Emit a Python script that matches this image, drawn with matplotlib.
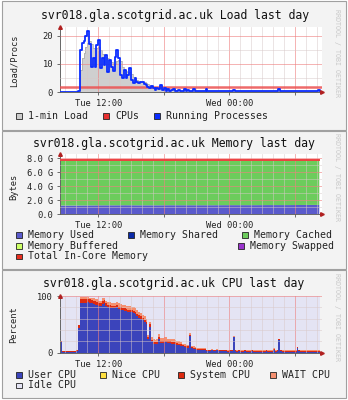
import numpy as np
import matplotlib
matplotlib.use("Agg")
import matplotlib.pyplot as plt
from matplotlib.patches import Rectangle

W, H = 348, 400
plt.rcParams['font.family'] = ['DejaVu Sans Mono']

# time axis: hours since Tue 00:00, samples every 10 minutes from 08:30
T0 = 8.5
STEP = 1 / 6
X_MIN, X_MAX = 8.5, 32.5
MAJOR_HOURS = [12, 18, 24, 30]
MAJOR_LABELS = ["Tue 12:00", "", "Wed 00:00", ""]

# ---- load graph ----
load_procs = [
    0, 0, 0, 0, 0, 0, 0, 0, 0, 0,
    0.3, 15, 17.5, 18, 20, 21.5, 17, 9, 12, 9,
    16.5, 18.3, 8.5, 12, 9.6, 13, 7.3, 11.4, 9, 7.5,
    12.5, 15, 12, 6, 5, 7.9, 5, 6, 8.5, 4.4,
    3.2, 5, 3.8, 3.2, 3.6, 3.8, 3, 2.6, 1.8, 1.4,
    2.2, 1.5, 0.8, 1.6, 1.2, 2.5, 0.8, 1.5, 0.6, 1.0,
    0.5, 0.7, 1.0, 0.6, 0.5, 0.9, 0.5, 0.6, 1.2, 0.5,
    0.7, 0.5, 0.4, 1.0, 0.5, 0.4, 0.3, 0.5, 0.3, 0.4,
    1.0, 0.4, 0.3, 0.3, 0.5, 0.3, 0.3, 0.4, 0.3, 0.3,
    0.3, 0.5, 0.3, 0.3, 0.3, 0.8, 0.3, 0.3, 0.3, 0.4,
    0.3, 0.3, 0.3, 0.3, 0.4, 0.3, 0.3, 0.6, 0.3, 0.3,
    0.3, 0.3, 0.4, 0.3, 0.3, 0.3, 0.3, 0.4, 0.3, 0.5,
    1.1, 0.4, 0.3, 0.3, 0.3, 0.3, 0.4, 0.3, 0.3, 0.3,
    0.3, 0.3, 0.4, 0.3, 0.3, 0.3, 0.3, 0.3, 0.4, 0.3,
    0.3, 0.3, 0.7, 0.3,
]
load_one = [
    0.1, 0.1, 0.1, 0.1, 0.1, 0.1, 0.1, 0.1, 0.1, 0.1,
    0.5, 8, 12, 14, 16, 17.5, 18, 17, 15.5, 15,
    15.5, 16, 15, 13.5, 13, 12.5, 12, 11, 10.5, 10,
    10, 11, 11.5, 11, 9, 8, 7.5, 7, 7, 6.5,
    5.5, 5, 4.5, 4, 3.8, 3.6, 3.5, 3.3, 3, 2.6,
    2.2, 2, 1.7, 1.5, 1.3, 1.4, 1.2, 1.1, 1.0, 0.9,
    0.8, 0.8, 0.8, 0.7, 0.7, 0.7, 0.6, 0.6, 0.7, 0.6,
    0.6, 0.5, 0.5, 0.6, 0.5, 0.4, 0.4, 0.4, 0.4, 0.4,
    0.5, 0.4, 0.4, 0.4, 0.4, 0.3, 0.3, 0.3, 0.3, 0.3,
    0.3, 0.3, 0.3, 0.3, 0.3, 0.4, 0.4, 0.3, 0.3, 0.3,
    0.3, 0.3, 0.3, 0.3, 0.3, 0.3, 0.3, 0.4, 0.3, 0.3,
    0.3, 0.3, 0.3, 0.3, 0.3, 0.3, 0.3, 0.3, 0.3, 0.3,
    0.5, 0.4, 0.3, 0.3, 0.3, 0.3, 0.3, 0.3, 0.3, 0.3,
    0.3, 0.3, 0.3, 0.3, 0.3, 0.3, 0.3, 0.3, 0.3, 0.3,
    0.3, 0.3, 0.4, 0.3,
]
n_cpus = 2

# ---- memory graph (hourly, GB) ----
mem_used = [1.22, 1.22, 1.23, 1.24, 1.25, 1.25, 1.26, 1.25, 1.25, 1.25,
            1.26, 1.26, 1.26, 1.26, 1.26, 1.27, 1.27, 1.27, 1.27, 1.28,
            1.28, 1.28, 1.29, 1.30, 1.30]
mem_shared = [0, 0, 0, 0, 0, 0, 0, 0, 0, 0, 0, 0, 0, 0, 0, 0, 0, 0, 0, 0,
              0, 0, 0, 0, 0]
mem_cached = [6.41, 6.41, 6.40, 6.39, 6.38, 6.38, 6.37, 6.38, 6.38, 6.38,
              6.37, 6.37, 6.37, 6.37, 6.37, 6.36, 6.36, 6.36, 6.36, 6.35,
              6.35, 6.35, 6.34, 6.33, 6.33]
mem_buffered = [0.05, 0.05, 0.05, 0.05, 0.05, 0.05, 0.05, 0.05, 0.05, 0.05,
                0.05, 0.05, 0.05, 0.05, 0.05, 0.05, 0.05, 0.05, 0.05, 0.05,
                0.05, 0.05, 0.05, 0.05, 0.05]
mem_total = [7.78, 7.78, 7.78, 7.78, 7.78, 7.78, 7.78, 7.78, 7.78, 7.78,
             7.78, 7.78, 7.78, 7.78, 7.78, 7.78, 7.78, 7.78, 7.78, 7.78,
             7.78, 7.78, 7.78, 7.78, 7.78]

# ---- cpu graph (percent) ----
cpu_user = [
    18, 2, 2, 2, 2, 2, 2, 2, 2, 3,
    43, 88, 88, 88, 88, 89, 88, 87, 86, 85,
    84, 82, 83, 86, 88, 82, 80, 79, 79, 78,
    78, 80, 77, 76, 75, 74, 73, 72, 72, 71,
    70, 68, 65, 62, 60, 57, 54, 50, 25, 46,
    20, 16, 15, 16, 24, 17, 17, 18, 18, 17,
    17, 16, 16, 15, 14, 13, 12, 11, 10, 9,
    9, 30, 8, 7, 6, 5, 5, 4, 4, 4,
    3, 3, 3, 4, 3, 3, 4, 3, 3, 3,
    3, 3, 2, 3, 3, 27, 3, 2, 3, 2,
    2, 3, 2, 2, 2, 3, 2, 2, 2, 2,
    2, 2, 2, 3, 2, 2, 2, 5, 2, 3,
    22, 3, 2, 2, 2, 2, 2, 2, 2, 2,
    8, 3, 2, 2, 2, 2, 2, 2, 2, 2,
    2, 2, 2, 2,
]
cpu_system = [
    3, 1, 1, 1, 1, 1, 1, 1, 1, 1,
    5, 7, 7, 7, 7, 6, 6, 6, 6, 6,
    6, 5, 5, 5, 5, 5, 5, 5, 4, 4,
    4, 4, 4, 4, 4, 4, 4, 4, 4, 4,
    4, 4, 4, 4, 4, 4, 4, 4, 3, 4,
    3, 3, 3, 3, 3, 3, 3, 3, 3, 3,
    3, 3, 3, 3, 3, 3, 3, 2, 2, 2,
    2, 2, 2, 2, 2, 2, 2, 2, 2, 2,
    1.5, 1.5, 1.5, 1.5, 1.5, 1.5, 1.5, 1.5, 1.5, 1.5,
    1.5, 1.5, 1.5, 1.5, 1.5, 1.5, 1.5, 1.5, 1.5, 1.5,
    1.5, 1.5, 1.5, 1.5, 1.5, 1.5, 1.5, 1.5, 1.5, 1.5,
    1.5, 1.5, 1.5, 1.5, 1.5, 1.5, 1.5, 1.5, 1.5, 1.5,
    1.5, 1.5, 1.5, 1.5, 1.5, 1.5, 1.5, 1.5, 1.5, 1.5,
    1.5, 1.5, 1.5, 1.5, 1.5, 1.5, 1.5, 1.5, 1.5, 1.5,
    1.5, 1.5, 1.5, 1.5,
]
cpu_wait = [
    0.5, 0.5, 0.5, 0.5, 0.5, 0.5, 0.5, 0.5, 0.5, 0.5,
    1, 3, 3, 3, 3, 3, 3, 3, 4, 4,
    4, 4, 4, 5, 4, 5, 5, 5, 5, 6,
    6, 6, 6, 6, 6, 6, 6, 6, 6, 6,
    6, 6, 6, 6, 6, 6, 6, 5, 4, 5,
    5, 5, 5, 5, 6, 6, 6, 6, 6, 5,
    5, 5, 5, 4, 4, 4, 3, 3, 3, 3,
    2, 2, 2, 2, 2, 1.5, 1.5, 1.5, 1.5, 1.5,
    1, 1, 1, 1, 1, 1, 1, 1, 1, 1,
    1, 1, 1, 1, 1, 1, 1, 1, 1, 1,
    1, 1, 1, 1, 1, 1, 1, 1, 1, 1,
    1, 1, 1, 1, 1, 1, 1, 1, 1, 1,
    1, 1, 1, 1, 1, 1, 1, 1, 1, 1,
    1, 1, 1, 1, 1, 1, 1, 1, 1, 1,
    1, 1, 1, 1,
]

HOST = "svr018.gla.scotgrid.ac.uk"
PANEL_BG = "#f3f3f3"
GRID_MINOR = "#d8c8c8"
GRID_MAJOR = "#ee8080"


def fx(x):
    return x / W


def fy(y):
    return 1 - y / H


def add_ax(fig, x0, y0, x1, y1):
    return fig.add_axes([fx(x0), fy(y1), (x1 - x0) / W, (y1 - y0) / H])


def hours_for(values, step):
    return T0 + np.arange(len(values)) * step


def style_axes(ax, ylim, yticks, ylabels, minor_y, major_y, facecolor="white"):
    ax.set_facecolor(facecolor)
    ax.set_xlim(X_MIN, X_MAX)
    ax.set_ylim(*ylim)
    ax.set_xticks(MAJOR_HOURS)
    ax.set_xticklabels(MAJOR_LABELS)
    ax.set_xticks(np.arange(9, 33), minor=True)
    ax.set_yticks(yticks)
    ax.set_yticklabels(ylabels)
    ax.set_yticks(minor_y, minor=True)
    ax.tick_params(axis="both", which="major", labelsize=6.3, length=2,
                   width=0.6, color="#555555", pad=3, labelcolor="#222222")
    ax.tick_params(axis="both", which="minor", length=0)
    ax.grid(which="minor", color=GRID_MINOR, lw=0.5, alpha=0.7)
    ax.grid(which="major", color=GRID_MAJOR, lw=0.6, alpha=0.7)
    ax.set_axisbelow(False)
    for s in ("top", "right"):
        ax.spines[s].set_visible(False)
    for s in ("left", "bottom"):
        ax.spines[s].set_color("#666666")
        ax.spines[s].set_linewidth(0.7)
    # little red arrow heads at the ends of the axes
    ax.plot([0], [1.0], marker="^", ms=2.6, color="#b02020", transform=ax.transAxes,
            clip_on=False, zorder=6)
    ax.plot([1.0], [0], marker=">", ms=2.6, color="#b02020", transform=ax.transAxes,
            clip_on=False, zorder=6)


def legend_item(fig, x, y, color, text):
    fig.add_artist(Rectangle((fx(x), fy(y + 2.8)), 5.5 / W, 5.5 / H, transform=fig.transFigure,
                             facecolor=color, edgecolor="#222222", lw=0.6))
    fig.text(fx(x + 12), fy(y), text, fontsize=7.1, va="center", ha="left", color="#222222")


fig = plt.figure(figsize=(W / 100, H / 100), dpi=100)
fig.patch.set_facecolor("white")

# panel frames
for y0, y1 in [(1, 130), (131, 269), (270, 398)]:
    fig.add_artist(Rectangle((fx(2), fy(y1)), 344 / W, (y1 - y0) / H, transform=fig.transFigure,
                             facecolor=PANEL_BG, edgecolor="#a0a0a0", lw=0.8, zorder=0))

# ---------- Load ----------
ax1 = add_ax(fig, 60, 27, 322, 92.3)
t_load = hours_for(load_procs, STEP)
ax1.fill_between(t_load, load_one, step="post", facecolor="#cfcfcf", edgecolor="none", zorder=1)
ax1.step(t_load, load_one, where="post", color="#a8a8a8", lw=0.5, zorder=1.2)
ax1.axhline(n_cpus, xmax=(t_load[-1] + STEP - X_MIN) / (X_MAX - X_MIN),
            color="#ec5050", lw=1.8, alpha=0.85, zorder=3)
ax1.step(t_load, load_procs, where="post", color="#0a2cff", lw=1.3, zorder=4)
style_axes(ax1, (0, 23), [0, 10, 20], ["0", "10", "20"], [5, 15], None)
fig.text(fx(175), fy(15), f"{HOST} Load last day", fontsize=8.3, ha="center", va="center",
         color="#111111")
fig.text(fx(14), fy(61), "Load/Procs", rotation=90, fontsize=6.3, ha="center", va="center",
         color="#222222")
legend_item(fig, 16, 116, "#cccccc", "1-min Load")
legend_item(fig, 103, 116, "#e83030", "CPUs")
legend_item(fig, 154, 116, "#0a2cff", "Running Processes")

# ---------- Memory ----------
ax2 = add_ax(fig, 60, 154, 322, 214)
t_mem = hours_for(mem_used, 1.0)
t_mem = np.minimum(t_mem, 32.25)
used = np.array(mem_used)
shared_top = used + np.array(mem_shared)
cached_top = shared_top + np.array(mem_cached)
buffered_top = cached_top + np.array(mem_buffered)
ax2.fill_between(t_mem, 0, used, facecolor="#5a5acc", edgecolor="none", zorder=1)
ax2.fill_between(t_mem, used, shared_top, facecolor="#0000aa", edgecolor="none", zorder=1)
ax2.fill_between(t_mem, shared_top, cached_top, facecolor="#6ccc5c", edgecolor="none", zorder=1)
ax2.fill_between(t_mem, cached_top, buffered_top, facecolor="#99ee44", edgecolor="none", zorder=1)
ax2.plot(t_mem, mem_total, color="#ec4040", lw=1.4, zorder=3)
style_axes(ax2, (0, 8.6), [0, 2, 4, 6, 8], ["0.0", "2.0 G", "4.0 G", "6.0 G", "8.0 G"],
           [1, 3, 5, 7], None)
fig.text(fx(174), fy(144), f"{HOST} Memory last day", fontsize=8.3, ha="center", va="center",
         color="#111111")
fig.text(fx(14), fy(187), "Bytes", rotation=90, fontsize=6.3, ha="center", va="center",
         color="#222222")
legend_item(fig, 16, 235, "#5a5acc", "Memory Used")
legend_item(fig, 128, 235, "#0a2aa8", "Memory Shared")
legend_item(fig, 242, 235, "#6ccc5c", "Memory Cached")
legend_item(fig, 16, 245.7, "#ccff66", "Memory Buffered")
legend_item(fig, 238, 245.7, "#9933cc", "Memory Swapped")
legend_item(fig, 16, 256.2, "#e83020", "Total In-Core Memory")

# ---------- CPU ----------
ax3 = add_ax(fig, 60, 296, 322, 352.7)
t_cpu = hours_for(cpu_user, STEP)
user = np.array(cpu_user, dtype=float)
sys_top = user + np.array(cpu_system)
wait_top = sys_top + np.array(cpu_wait)
ax3.fill_between(t_cpu, 0, user, step="post", facecolor="#3b44bb", edgecolor="none", zorder=1)
ax3.fill_between(t_cpu, user, sys_top, step="post", facecolor="#dd2a10", edgecolor="none", zorder=1)
ax3.fill_between(t_cpu, sys_top, wait_top, step="post", facecolor="#f59070", edgecolor="none",
                 zorder=1)
ax3.fill_between(t_cpu, wait_top, 100, step="post", facecolor="#e4e4f4", edgecolor="none",
                 zorder=1)
style_axes(ax3, (0, 100), [0, 100], ["0", "100"], [20, 40, 60, 80], None,
           facecolor=PANEL_BG)
fig.text(fx(174), fy(283.3), f"{HOST} CPU last day", fontsize=8.3, ha="center", va="center",
         color="#111111")
fig.text(fx(14), fy(325), "Percent", rotation=90, fontsize=6.3, ha="center", va="center",
         color="#222222")
legend_item(fig, 16, 374.7, "#3b44bb", "User CPU")
legend_item(fig, 100, 374.7, "#ffe040", "Nice CPU")
legend_item(fig, 178, 374.7, "#dd2a10", "System CPU")
legend_item(fig, 270, 374.7, "#f59070", "WAIT CPU")
legend_item(fig, 16, 385.3, "#e4e4f4", "Idle CPU")

# rrdtool watermark on the right of each graph
for yc in (53, 177, 317):
    fig.text(fx(337), fy(yc), "RRDTOOL / TOBI OETIKER", rotation=270, fontsize=4.8,
             ha="center", va="center", color="#c8c8c8")

fig.savefig("out.png", dpi=100, facecolor=fig.get_facecolor())
